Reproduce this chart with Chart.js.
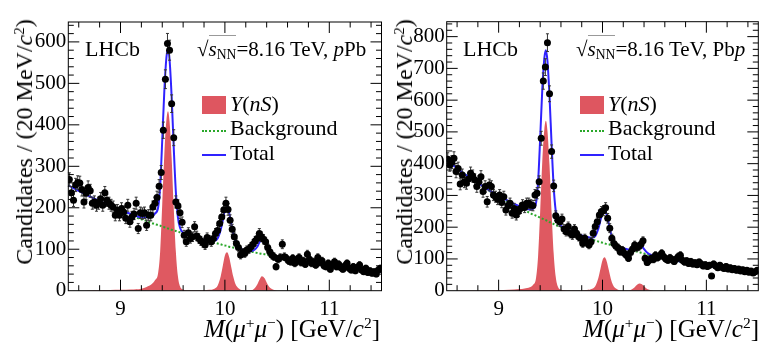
<!DOCTYPE html>
<html>
<head>
<meta charset="utf-8">
<script src="https://cdn.jsdelivr.net/npm/chart.js@4.4.1/dist/chart.umd.min.js"></script>
<style>
  body { margin: 0; background: #fff; }
  #wrap { position: relative; width: 779px; height: 350px; overflow: hidden;
          font-family: "Liberation Serif", "DejaVu Serif", serif; color: #000; }
  .panel { position: absolute; top: 0; height: 350px; }
  .panel canvas { position: absolute; left: 0; top: 0; }
  .txt { position: absolute; white-space: nowrap; line-height: 1; }
  .ytitle { font-size: 24px; transform: translate(-50%, -50%) rotate(-90deg); }
  .xtitle { font-size: 25px; }
  .lhcb { font-size: 22px; }
  .energy { font-size: 21px; }
  .leg { font-size: 22px; }
  sup { font-size: 0.62em; vertical-align: 0.55em; line-height: 0; }
  sub { font-size: 0.65em; vertical-align: -0.25em; line-height: 0; }
  .ov { border-top: 1px solid #999; padding-top: 1px; }
  .box { position: absolute; width: 24px; height: 18px; background: #de5660; }
  .dot { position: absolute; width: 24px; height: 0; border-top: 2px dotted #2aa82a; }
  .ln { position: absolute; width: 24px; height: 2px; background: #2f22ff; }
</style>
</head>
<body>
<div id="wrap">
  <div class="panel" style="left:0; width:390px;">
    <canvas id="pPbChart" width="390" height="350"></canvas>
    <div class="txt ytitle" style="left:24px; top:142px;">Candidates / (20 MeV/<i>c</i><sup>2</sup>)</div>
    <div class="txt xtitle" style="right:10px; top:316px;"><i>M</i>(<i>μ</i><sup>+</sup><i>μ</i><sup>−</sup>) [GeV/<i>c</i><sup>2</sup>]</div>
    <div class="txt lhcb" style="left:85px; top:38px;">LHCb</div>
    <div class="txt energy" style="left:197px; top:39px;">√<span class="ov"><i>s</i><sub>NN</sub></span>=8.16 TeV, <i>p</i>Pb</div>
    <div class="box" style="left:202px; top:96px;"></div>
    <div class="txt leg" style="left:230px; top:93px;"><i>Υ</i>(<i>nS</i>)</div>
    <div class="dot" style="left:202px; top:130px;"></div>
    <div class="txt leg" style="left:230px; top:117px;">Background</div>
    <div class="ln" style="left:202px; top:154px;"></div>
    <div class="txt leg" style="left:230px; top:142px;">Total</div>
  </div>
  <div class="panel" style="left:390px; width:389px;">
    <canvas id="PbpChart" width="389" height="350"></canvas>
    <div class="txt ytitle" style="left:14px; top:142px;">Candidates / (20 MeV/<i>c</i><sup>2</sup>)</div>
    <div class="txt xtitle" style="right:20px; top:316px;"><i>M</i>(<i>μ</i><sup>+</sup><i>μ</i><sup>−</sup>) [GeV/<i>c</i><sup>2</sup>]</div>
    <div class="txt lhcb" style="left:73px; top:38px;">LHCb</div>
    <div class="txt energy" style="left:186px; top:39px;">√<span class="ov"><i>s</i><sub>NN</sub></span>=8.16 TeV, Pb<i>p</i></div>
    <div class="box" style="left:190px; top:96px;"></div>
    <div class="txt leg" style="left:218px; top:93px;"><i>Υ</i>(<i>nS</i>)</div>
    <div class="dot" style="left:190px; top:130px;"></div>
    <div class="txt leg" style="left:218px; top:117px;">Background</div>
    <div class="ln" style="left:190px; top:154px;"></div>
    <div class="txt leg" style="left:218px; top:142px;">Total</div>
  </div>
</div>
<script>
// dimuon mass histogram, 20 MeV bins
const massMin = 8.5;
const massMax = 11.5;
const binWidth = 0.02;
const massTicks = [9, 10, 11];

// pPb candidates per bin (8.51 ... 11.49)
const pPbCounts = [
  268, 236, 218, 255, 261, 260, 244, 214, 235, 249,
  241, 211, 214, 206, 211, 222, 206, 236, 218, 211,
  206, 202, 182, 194, 182, 198, 190, 175, 206, 166,
  178, 185, 211, 150, 188, 186, 188, 158, 182, 182,
  202, 211, 225, 252, 285, 387, 510, 596, 580, 451,
  369, 214, 205, 188, 165, 134, 118, 140, 126, 130,
  154, 132, 126, 120, 116, 110, 128, 122, 118, 126,
  138, 145, 162, 178, 195, 211, 196, 170, 148, 130,
  114, 104, 86, 92, 90, 98, 100, 106, 112, 120,
  126, 138, 130, 124, 118, 104, 94, 86, 82, 58,
  76, 80, 112, 82, 78, 72, 70, 78, 66, 74,
  80, 68, 72, 64, 88, 76, 66, 70, 62, 80,
  68, 72, 60, 58, 66, 52, 62, 70, 58, 64,
  56, 52, 60, 66, 54, 50, 58, 48, 56, 62,
  50, 46, 54, 44, 48, 42, 46, 40, 50, 54
];

// Pbp candidates per bin
const PbpCounts = [
  414, 396, 405, 417, 375, 385, 336, 364, 343, 338,
  352, 370, 361, 349, 328, 343, 359, 312, 328, 280,
  333, 328, 301, 296, 288, 301, 278, 296, 254, 268,
  275, 244, 259, 238, 249, 259, 270, 262, 275, 275,
  270, 268, 301, 307, 343, 480, 660, 704, 781, 620,
  438, 330, 236, 222, 217, 226, 194, 186, 202, 180,
  175, 194, 181, 170, 165, 149, 165, 152, 144, 154,
  181, 202, 217, 238, 249, 252, 261, 228, 197, 165,
  149, 140, 135, 123, 128, 118, 112, 102, 120, 131,
  144, 136, 139, 146, 157, 102, 89, 96, 102, 98,
  112, 104, 110, 118, 107, 100, 96, 104, 98, 92,
  100, 108, 112, 96, 90, 94, 86, 92, 84, 88,
  82, 90, 84, 78, 82, 76, 80, 46, 84, 78,
  72, 80, 74, 70, 76, 68, 72, 66, 70, 64,
  68, 62, 66, 60, 64, 58, 62, 56, 60, 64
];

// fit curves sampled at these masses
const curveMass = [
  8.5, 8.6, 8.7, 8.8, 8.9, 9.0, 9.1, 9.2, 9.25, 9.3,
  9.33, 9.36, 9.38, 9.40, 9.42, 9.44, 9.455, 9.47, 9.49, 9.51,
  9.53, 9.55, 9.57, 9.60, 9.65, 9.7, 9.8, 9.85, 9.90, 9.93,
  9.96, 9.98, 10.00, 10.02, 10.04, 10.06, 10.08, 10.10, 10.13, 10.17,
  10.21, 10.25, 10.28, 10.31, 10.33, 10.355, 10.38, 10.40, 10.42, 10.45,
  10.48, 10.5, 10.6, 10.7, 10.8, 10.9, 11.0, 11.1, 11.2, 11.3,
  11.4, 11.5
];

const pPbSignal = [
  0, 0, 0.5, 1, 1.5, 2, 3, 5, 9, 16,
  25, 42, 95, 210, 330, 412, 433, 408, 320, 200,
  95, 35, 11, 3, 1, 1, 1, 2, 5, 12,
  35, 60, 85, 93, 82, 58, 34, 17, 6, 1,
  0.5, 1, 5, 15, 26, 35, 30, 20, 11, 4,
  1, 0, 0, 0, 0, 0, 0, 0, 0, 0,
  0, 0
];
const pPbBackground = [
  254, 241, 228, 215, 204, 193, 182, 172, 168, 163,
  161, 158, 157, 154, 153, 151, 150, 149, 147, 145,
  144, 142, 141, 137, 134, 130, 122, 119, 116, 114,
  112, 110, 109, 108, 106, 105, 104, 103, 101, 99,
  96, 94, 93, 91, 90, 89, 88, 87, 86, 84,
  83, 82, 77, 73, 69, 65, 61, 58, 54, 51,
  49, 46
];
const pPbTotal = [
  254, 241, 228, 216, 205, 195, 185, 177, 177, 179,
  186, 200, 252, 364, 483, 563, 583, 557, 467, 345,
  239, 177, 152, 140, 135, 131, 123, 121, 121, 126,
  147, 170, 194, 201, 188, 163, 138, 120, 107, 100,
  97, 95, 98, 106, 116, 124, 118, 107, 97, 88,
  84, 82, 77, 73, 69, 65, 61, 58, 54, 51,
  49, 46
];

const PbpSignal = [
  0, 0, 0.5, 1, 1.5, 2, 3, 5, 7, 11,
  18, 40, 110, 250, 405, 508, 535, 504, 395, 247,
  117, 43, 13, 3, 1, 1, 1, 2, 6, 14,
  40, 68, 96, 105, 93, 66, 38, 19, 7, 1,
  0.5, 1, 4, 11, 18, 23, 20, 14, 8, 3,
  1, 0, 0, 0, 0, 0, 0, 0, 0, 0,
  0, 0
];
const PbpBackground = [
  412, 386, 361, 338, 317, 297, 278, 261, 253, 245,
  240, 236, 233, 230, 227, 224, 222, 219, 216, 213,
  210, 207, 204, 201, 195, 186, 173, 167, 161, 158,
  155, 153, 151, 149, 147, 146, 144, 142, 139, 136,
  132, 129, 127, 125, 123, 121, 119, 117, 115, 112,
  110, 108, 101, 95, 89, 83, 78, 74, 70, 66,
  62, 59
];
const PbpTotal = [
  412, 386, 361, 339, 318, 299, 281, 266, 260, 256,
  258, 276, 343, 480, 632, 732, 757, 723, 611, 460,
  327, 250, 217, 204, 196, 187, 174, 169, 167, 172,
  195, 221, 247, 254, 240, 212, 182, 161, 146, 137,
  133, 130, 131, 136, 141, 144, 139, 131, 123, 115,
  111, 108, 101, 95, 89, 83, 78, 74, 70, 66,
  62, 59
];

const pPbYTicks = [0, 100, 200, 300, 400, 500, 600];
const PbpYTicks = [0, 100, 200, 300, 400, 500, 600, 700, 800];

const serif = '"Liberation Serif", "DejaVu Serif", serif';

// ROOT-like frame: error bars, box and inward ticks on all sides
const hepPlugin = {
  id: 'hep',
  beforeDatasetDraw(chart, args) {
    if (args.meta.label !== 'Data') return;
    const ctx = chart.ctx;
    const y = chart.scales.y;
    const ds = chart.data.datasets[args.index].data;
    ctx.save();
    ctx.strokeStyle = '#333';
    ctx.lineWidth = 1;
    ctx.beginPath();
    args.meta.data.forEach((pt, i) => {
      const n = ds[i].y;
      const err = Math.sqrt(n); // Poisson uncertainty
      const top = y.getPixelForValue(n + err);
      const bot = y.getPixelForValue(n - err);
      ctx.moveTo(pt.x, top); ctx.lineTo(pt.x, bot);
      ctx.moveTo(pt.x - 1.5, top); ctx.lineTo(pt.x + 1.5, top);
      ctx.moveTo(pt.x - 1.5, bot); ctx.lineTo(pt.x + 1.5, bot);
    });
    ctx.stroke();
    ctx.restore();
  },
  afterDraw(chart) {
    const {ctx, chartArea: a, scales: {x, y}} = chart;
    ctx.save();
    ctx.strokeStyle = '#000';
    ctx.lineWidth = 1;
    ctx.strokeRect(a.left, a.top, a.right - a.left, a.bottom - a.top);
    ctx.beginPath();
    for (let k = 43; k <= 57; k++) {
      const px = x.getPixelForValue(k / 5);
      const len = k % 5 === 0 ? 11 : 5.5;
      ctx.moveTo(px, a.bottom); ctx.lineTo(px, a.bottom - len);
      ctx.moveTo(px, a.top); ctx.lineTo(px, a.top + len);
    }
    for (let v = 20; v < y.max; v += 20) {
      const py = y.getPixelForValue(v);
      const len = v % 100 === 0 ? 11 : 5.5;
      ctx.moveTo(a.left, py); ctx.lineTo(a.left + len, py);
      ctx.moveTo(a.right, py); ctx.lineTo(a.right - len, py);
    }
    ctx.stroke();
    ctx.restore();
  }
};

function buildPanel(canvasId, counts, signal, background, total, yMax, yTicks, box) {
  const points = counts.map((n, i) => ({x: massMin + binWidth * (i + 0.5), y: n}));
  const curve = vals => curveMass.map((m, i) => ({x: m, y: vals[i]}));
  const tickFont = {family: serif, size: 21};

  return new Chart(document.getElementById(canvasId), {
    type: 'line',
    data: {
      datasets: [
        {label: 'Data', data: points, showLine: false, pointRadius: 3.5,
         pointBackgroundColor: '#000', pointBorderWidth: 0, order: 0},
        {label: 'Total', data: curve(total), borderColor: '#2f22ff', borderWidth: 2,
         pointRadius: 0, cubicInterpolationMode: 'monotone', order: 1},
        {label: 'Background', data: curve(background), borderColor: '#2aa82a', borderWidth: 2,
         borderDash: [2, 2], pointRadius: 0, cubicInterpolationMode: 'monotone', order: 2},
        {label: 'Signal', data: curve(signal), borderWidth: 0, backgroundColor: '#df5961',
         fill: 'origin', pointRadius: 0, cubicInterpolationMode: 'monotone', order: 3}
      ]
    },
    options: {
      responsive: false,
      animation: false,
      events: [],
      layout: {padding: {top: box.top, right: box.right, left: 0, bottom: 0}},
      plugins: {legend: {display: false}, tooltip: {enabled: false}},
      scales: {
        x: {
          type: 'linear', min: massMin, max: massMax,
          afterBuildTicks: s => { s.ticks = massTicks.map(v => ({value: v})); },
          afterFit: s => { s.height = box.bottom; },
          grid: {display: false, drawTicks: false},
          border: {display: false},
          ticks: {font: tickFont, color: '#000', padding: 6, maxRotation: 0}
        },
        y: {
          type: 'linear', min: 0, max: yMax,
          afterBuildTicks: s => { s.ticks = yTicks.map(v => ({value: v})); },
          afterFit: s => { s.width = box.left; },
          grid: {display: false, drawTicks: false},
          border: {display: false},
          ticks: {font: tickFont, color: '#000', padding: 2}
        }
      }
    },
    plugins: [hepPlugin]
  });
}

buildPanel('pPbChart', pPbCounts, pPbSignal, pPbBackground, pPbTotal, 648, pPbYTicks,
  {left: 68.3, right: 8.5, top: 22, bottom: 59.3});
buildPanel('PbpChart', PbpCounts, PbpSignal, PbpBackground, PbpTotal, 847, PbpYTicks,
  {left: 56.7, right: 20.7, top: 21.7, bottom: 59.3});
</script>
</body>
</html>
